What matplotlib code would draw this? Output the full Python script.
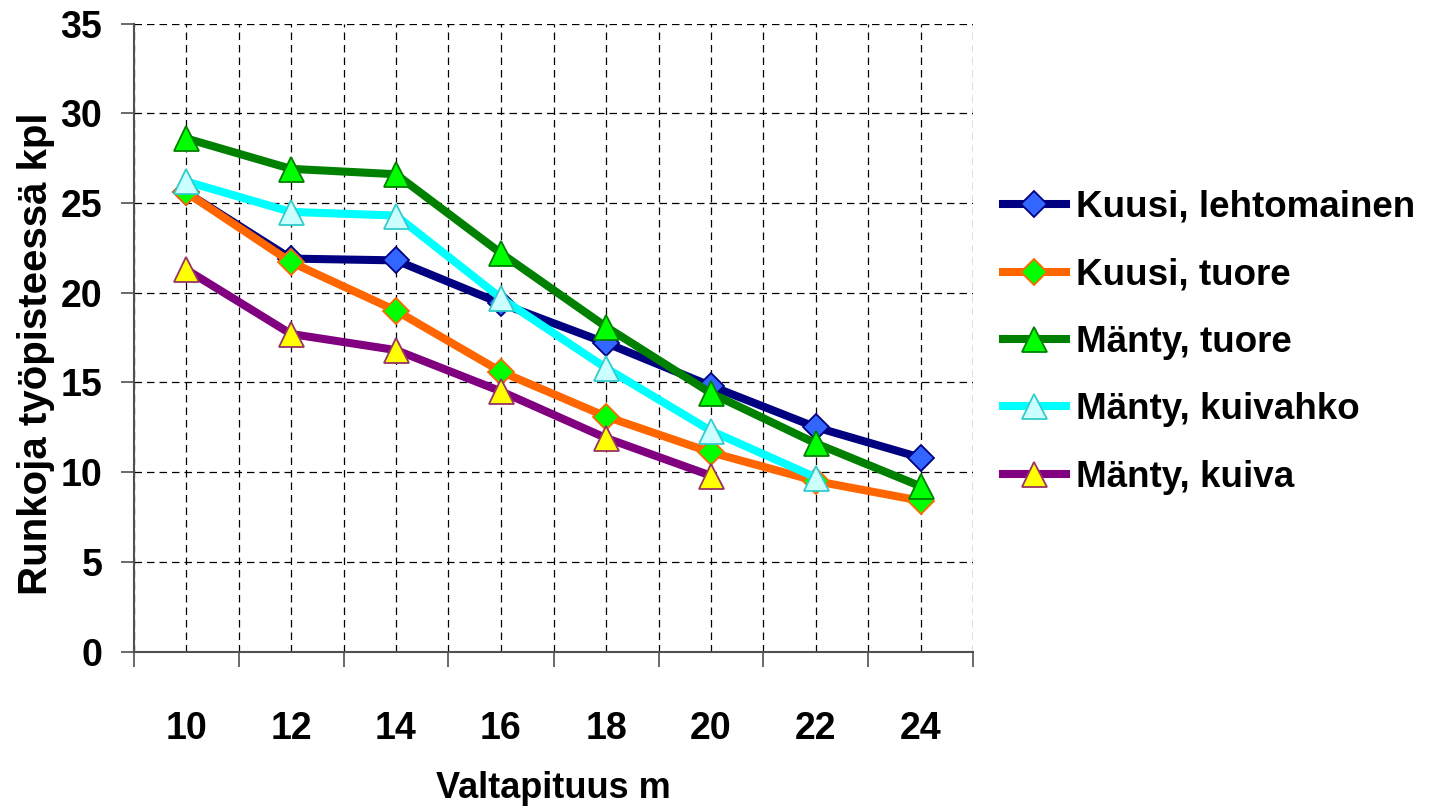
import matplotlib
matplotlib.use("Agg")
import matplotlib.pyplot as plt
import numpy as np

# data
heights = [10, 12, 14, 16, 18, 20, 22, 24]
kuusi_lehto = [25.6, 21.9, 21.8, 19.4, 17.2, 14.8, 12.5, 10.8]
kuusi_tuore = [25.6, 21.7, 19.0, 15.6, 13.1, 11.1, 9.5, 8.4]
manty_tuore = [28.6, 26.9, 26.6, 22.2, 18.1, 14.4, 11.6, 9.2]
manty_kuivahko = [26.2, 24.5, 24.3, 19.7, 15.8, 12.3, 9.7]
manty_kuiva = [21.3, 17.7, 16.8, 14.5, 11.9, 9.8]

series = [
    ("Kuusi, lehtomainen", kuusi_lehto, "#000080", "D", "#3366FF", "#000080"),
    ("Kuusi, tuore", kuusi_tuore, "#FF6600", "D", "#00FF00", "#FF6600"),
    ("Mänty, tuore", manty_tuore, "#008000", "^", "#00FF00", "#008000"),
    ("Mänty, kuivahko", manty_kuivahko, "#00FFFF", "^", "#CCFFFF", "#33CCCC"),
    ("Mänty, kuiva", manty_kuiva, "#800080", "^", "#FFFF00", "#993366"),
]

font = ["Liberation Sans", "DejaVu Sans"]

fig = plt.figure(figsize=(14.41, 8.09), dpi=100)
ax = fig.add_axes([133.5 / 1441, 1 - 651.6 / 809, 840 / 1441, 628.1 / 809])

x = np.arange(len(heights))
for name, vals, col, mk, fc, ec in series:
    ms = 13 if mk == "D" else 18
    ax.plot(x[:len(vals)], vals, color=col, lw=5.8, marker=mk, ms=ms,
            markerfacecolor=fc, markeredgecolor=ec, markeredgewidth=1.3,
            label=name, clip_on=False, zorder=3)

ax.set_xlim(-0.5, len(heights) - 0.5)
ax.set_ylim(0, 35)

# x: boundary ticks (major) and labelled centre ticks (minor)
ax.set_xticks(np.arange(-0.5, len(heights), 1.0))
ax.set_xticklabels([])
ax.set_xticks(x, minor=True)
ax.set_xticklabels([str(h) for h in heights], minor=True)
ax.tick_params(axis="x", which="major", direction="out", length=11, width=1.2, color="#505050")
ax.tick_params(axis="x", which="minor", length=0, pad=43)
ax.set_yticks(np.arange(0, 36, 5))
ax.tick_params(axis="y", direction="out", length=9.5, width=1.2, color="#505050", pad=13)

for lbl in ax.get_xticklabels(minor=True) + ax.get_yticklabels():
    lbl.set_fontfamily(font)
    lbl.set_fontweight("bold")
    lbl.set_fontsize(27)

ax.grid(True, which="both", axis="x", color="black", linestyle=(0, (6, 4)), linewidth=0.9)
ax.grid(True, which="major", axis="y", color="black", linestyle=(0, (6, 4)), linewidth=0.9)
ax.set_axisbelow(True)

for s in ["top", "right"]:
    ax.spines[s].set_visible(False)
for s in ["left", "bottom"]:
    ax.spines[s].set_color("#505050")
    ax.spines[s].set_linewidth(1.5)

ax.set_xlabel("Valtapituus m", fontfamily=font, fontweight="bold", fontsize=26)
ax.xaxis.set_label_coords(0.5, -0.19)
ax.set_ylabel("Runkoja työpisteessä kpl", fontfamily=font, fontweight="bold", fontsize=29)
ax.yaxis.set_label_coords(-0.094, 0.4745)

leg = fig.legend(loc="upper left", bbox_to_anchor=(1003 / 1441, 1 - 190 / 809),
                 frameon=False, borderpad=0, borderaxespad=0,
                 handlelength=1.7, handletextpad=0.27, labelspacing=0.88,
                 prop={"family": font, "weight": "bold", "size": 26.5})

plt.savefig("out.png", dpi=100)
